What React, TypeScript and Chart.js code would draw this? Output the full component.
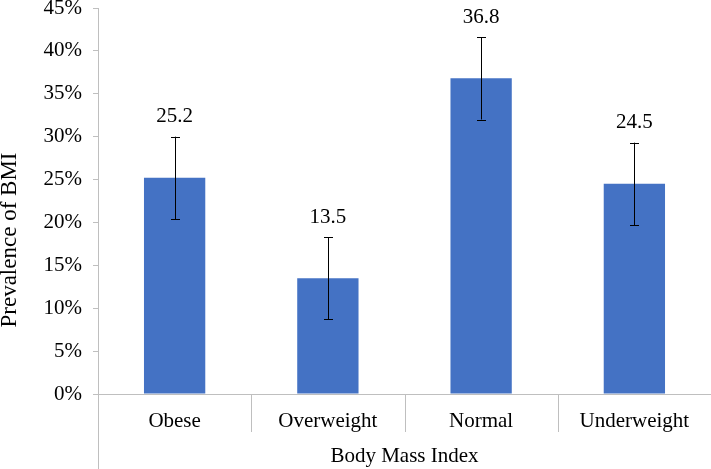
import React, { useEffect, useRef } from "react";
import { Chart, registerables } from "chart.js";

Chart.register(...registerables);

const categories = ["Obese", "Overweight", "Normal", "Underweight"];
const prevalence = [25.2, 13.5, 36.8, 24.5];
const errorMargin = [4.8, 4.8, 4.8, 4.8];
const yTicks = [0, 5, 10, 15, 20, 25, 30, 35, 40, 45];
const yAxisTitle = "Prevalence of BMI";
const xAxisTitle = "Body Mass Index";

const FONT = "'Liberation Serif', 'Times New Roman', serif";
const FONT_SIZE = 21;
const AXIS_COLOR = "#BFBFBF";

const errorAndLabelPlugin = {
  id: "errorAndLabel",
  afterDatasetsDraw(chart: any) {
    const ctx = chart.ctx;
    const meta = chart.getDatasetMeta(0);
    const yScale = chart.scales.y;
    ctx.save();
    meta.data.forEach((bar: any, i: number) => {
      const v = prevalence[i];
      const e = errorMargin[i];
      const x = Math.round(bar.x) + 0.5;
      const yTop = yScale.getPixelForValue(v + e);
      const yBot = yScale.getPixelForValue(v - e);
      ctx.strokeStyle = "#000000";
      ctx.lineWidth = 1;
      ctx.beginPath();
      ctx.moveTo(x, yTop);
      ctx.lineTo(x, yBot);
      ctx.moveTo(x - 4.5, Math.round(yTop) + 0.5);
      ctx.lineTo(x + 4.5, Math.round(yTop) + 0.5);
      ctx.moveTo(x - 4.5, Math.round(yBot) + 0.5);
      ctx.lineTo(x + 4.5, Math.round(yBot) + 0.5);
      ctx.stroke();
      ctx.fillStyle = "#000000";
      ctx.font = `${FONT_SIZE}px ${FONT}`;
      ctx.textAlign = "center";
      ctx.textBaseline = "middle";
      ctx.fillText(v.toFixed(1), bar.x, yTop - 20);
    });
    ctx.restore();
  },
};

const axisLinesPlugin = {
  id: "axisLines",
  afterDraw(chart: any) {
    const ctx = chart.ctx;
    const xScale = chart.scales.x;
    const area = chart.chartArea;
    ctx.save();
    ctx.strokeStyle = AXIS_COLOR;
    ctx.lineWidth = 1;
    ctx.beginPath();
    const lx = Math.round(area.left) + 0.5;
    ctx.moveTo(lx, area.bottom);
    ctx.lineTo(lx, chart.height);
    for (let i = 1; i < categories.length; i++) {
      const px = Math.round((xScale.getPixelForValue(i - 1) + xScale.getPixelForValue(i)) / 2) + 0.5;
      ctx.moveTo(px, area.bottom);
      ctx.lineTo(px, area.bottom + 38);
    }
    ctx.stroke();
    // y-axis title
    ctx.translate(10, 240);
    ctx.rotate(-Math.PI / 2);
    ctx.fillStyle = "#000000";
    ctx.font = `23px ${FONT}`;
    ctx.textAlign = "center";
    ctx.textBaseline = "middle";
    ctx.fillText(yAxisTitle, 0, 0);
    ctx.restore();
  },
};

export default function App() {
  const ref = useRef<HTMLCanvasElement | null>(null);

  useEffect(() => {
    if (!ref.current) return;
    const chart = new Chart(ref.current, {
      type: "bar",
      data: {
        labels: categories,
        datasets: [
          {
            data: prevalence,
            backgroundColor: "#4472C4",
            borderWidth: 0,
            categoryPercentage: 1,
            barPercentage: 0.4,
          },
        ],
      },
      options: {
        responsive: false,
        animation: false,
        layout: { padding: { top: 8, left: 0, right: 0, bottom: 0 } },
        plugins: {
          legend: { display: false },
          tooltip: { enabled: false },
        },
        scales: {
          x: {
            afterFit: (scale: any) => {
              scale.height = 75;
              scale.paddingLeft = 0;
              scale.paddingRight = 0;
            },
            grid: { display: false },
            border: { display: true, color: AXIS_COLOR, width: 1 },
            ticks: {
              color: "#000000",
              font: { family: FONT, size: FONT_SIZE, lineHeight: 1.2 },
              padding: 7,
              maxRotation: 0,
            },
            title: {
              display: true,
              text: xAxisTitle,
              color: "#000000",
              font: { family: FONT, size: FONT_SIZE, lineHeight: 1.2 },
              padding: { top: 0, bottom: 0 },
            },
          },
          y: {
            min: 0,
            max: 45,
            afterBuildTicks: (scale: any) => {
              scale.ticks = yTicks.map((v) => ({ value: v }));
            },
            afterFit: (scale: any) => {
              scale.width = 98;
              scale.paddingTop = 0;
              scale.paddingBottom = 0;
            },
            grid: {
              display: true,
              drawOnChartArea: false,
              drawTicks: true,
              tickLength: 5,
              color: AXIS_COLOR,
            },
            border: { display: true, color: AXIS_COLOR, width: 1 },
            ticks: {
              color: "#000000",
              font: { family: FONT, size: FONT_SIZE, lineHeight: 1 },
              padding: 11,
              callback: (v: any) => `${v}%`,
            },
            title: { display: false },
          },
        },
      },
      plugins: [errorAndLabelPlugin, axisLinesPlugin],
    });
    return () => chart.destroy();
  }, []);

  return (
    <div style={{ position: "absolute", left: 0, top: 0, width: 711, height: 469, background: "#fff" }}>
      <canvas ref={ref} width={711} height={469} style={{ display: "block" }} />
    </div>
  );
}
